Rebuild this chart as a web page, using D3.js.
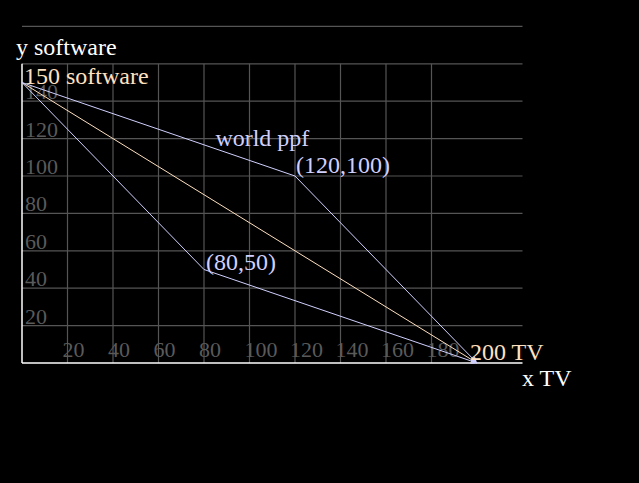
<!DOCTYPE html>
<meta charset="utf-8">
<style>
  body { margin: 0; background: #000; }
  text { font-family: "Liberation Serif", "Times New Roman", serif; }
</style>
<script src="https://d3js.org/d3.v7.min.js"></script>
<div id="chart"></div>
<script>

// grid / ticks
var gridX = [20, 40, 60, 80, 100, 120, 140, 160, 180];
var gridY = [20, 40, 60, 80, 100, 120, 140, 160, 180];
var xTickLabels = [20, 40, 60, 80, 100, 120, 140, 160, 180];
var yTickLabels = [20, 40, 60, 80, 100, 120, 140];

// the three lines
var worldPpf = [[0, 150], [120, 100], [200, 0]];
var lowPpf = [[0, 150], [80, 50], [200, 0]];
var straightPpf = [[0, 150], [200, 0]];

var lavender = "#d0d0ff", peach = "#ffe0c0";

var W = 639, H = 483;
var svg = d3.select("#chart").append("svg")
    .attr("width", W).attr("height", H)
    .style("background", "#000");

var x = d3.scaleLinear().domain([0, 220]).range([22, 522.5]);
var y = d3.scaleLinear().domain([0, 180]).range([363, 26.4]);

var defs = svg.append("defs");
[["arrL", lavender], ["arrP", peach]].forEach(function(m) {
  defs.append("marker")
      .attr("id", m[0])
      .attr("viewBox", "0 0 10 10")
      .attr("refX", 10).attr("refY", 5)
      .attr("markerWidth", 10).attr("markerHeight", 6)
      .attr("markerUnits", "userSpaceOnUse")
      .attr("orient", "auto")
    .append("path")
      .attr("d", "M0,0 L10,5 L0,10 z")
      .attr("fill", m[1]);
});

// horizontal grid
svg.append("g").selectAll("line").data(gridY).enter().append("line")
    .attr("x1", x(0)).attr("x2", x(220))
    .attr("y1", function(d) { return y(d); })
    .attr("y2", function(d) { return y(d); })
    .attr("stroke", "#555").attr("stroke-width", 1.2);

// vertical grid (up to 160)
svg.append("g").selectAll("line").data(gridX).enter().append("line")
    .attr("x1", function(d) { return x(d); })
    .attr("x2", function(d) { return x(d); })
    .attr("y1", y(0)).attr("y2", y(160))
    .attr("stroke", "#555").attr("stroke-width", 1.2);

// axes
svg.append("line").attr("x1", x(0)).attr("x2", x(0))
    .attr("y1", y(0)).attr("y2", y(160))
    .attr("stroke", "#fff").attr("stroke-width", 1.5);
svg.append("line").attr("x1", x(0)).attr("x2", x(220))
    .attr("y1", y(0)).attr("y2", y(0))
    .attr("stroke", "#fff").attr("stroke-width", 1.5);

// tick labels
svg.append("g").selectAll("text").data(yTickLabels).enter().append("text")
    .attr("x", x(0) + 3)
    .attr("y", function(d) { return y(d) - 2; })
    .attr("fill", "#5a5a5a").style("font-size", "22px")
    .text(function(d) { return d; });

svg.append("g").selectAll("text").data(xTickLabels).enter().append("text")
    .attr("x", function(d) { return x(d) - 5; })
    .attr("y", y(0) - 6)
    .attr("fill", "#5a5a5a").style("font-size", "22px")
    .text(function(d) { return d; });

var line = d3.line()
    .x(function(d) { return x(d[0]); })
    .y(function(d) { return y(d[1]); });

svg.append("path").datum(straightPpf)
    .attr("d", line).attr("fill", "none")
    .attr("stroke", peach).attr("stroke-width", 1)
    .attr("marker-end", "url(#arrP)");
svg.append("path").datum(worldPpf)
    .attr("d", line).attr("fill", "none")
    .attr("stroke", lavender).attr("stroke-width", 1)
    .attr("marker-end", "url(#arrL)");
svg.append("path").datum(lowPpf)
    .attr("d", line).attr("fill", "none")
    .attr("stroke", lavender).attr("stroke-width", 1)
    .attr("marker-end", "url(#arrL)");

// labels
function label(t, px, py, col) {
  svg.append("text").attr("x", px).attr("y", py)
      .attr("fill", col).style("font-size", "24px").text(t);
}
label("y software", 16, 55, "#fff");
label("x TV", 522, 386, "#fff");
label("150 software", x(0) + 2, y(150) + 1, peach);
label("200 TV", x(200) - 7, y(0) - 3, peach);
label("world ppf", x(85), y(116), lavender);
label("(" + worldPpf[1][0] + "," + worldPpf[1][1] + ")", x(worldPpf[1][0]) + 1, y(worldPpf[1][1]) - 3, lavender);
label("(" + lowPpf[1][0] + "," + lowPpf[1][1] + ")", x(lowPpf[1][0]) + 2, y(lowPpf[1][1]), lavender);

</script>
